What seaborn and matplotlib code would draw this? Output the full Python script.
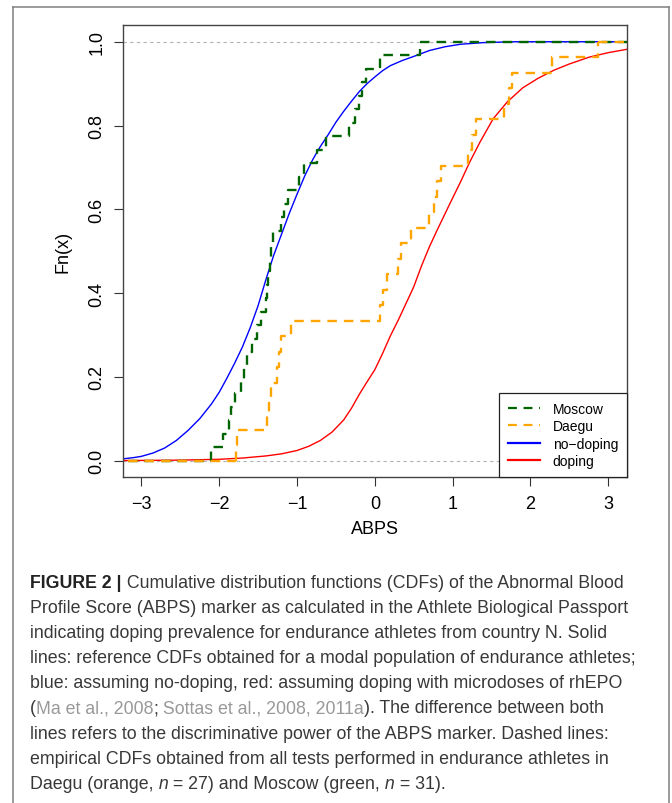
import numpy as np
import pandas as pd
import matplotlib
matplotlib.use("Agg")
import matplotlib.pyplot as plt
import seaborn as sns
from matplotlib import font_manager
from matplotlib.lines import Line2D

# empirical ABPS values
moscow = [-2.10, -1.95, -1.88, -1.85, -1.80, -1.72, -1.68, -1.64, -1.58, -1.52,
          -1.46, -1.40, -1.385, -1.37, -1.35, -1.33, -1.31, -1.21, -1.17, -1.12,
          -0.98, -0.91, -0.74, -0.63, -0.33, -0.26, -0.21, -0.17, -0.12, 0.06, 0.58]
daegu = [-1.79, -1.77, -1.39, -1.36, -1.33, -1.26, -1.23, -1.20, -1.08, 0.07,
         0.11, 0.16, 0.30, 0.33, 0.47, 0.70, 0.76, 0.80, 0.85, 1.20,
         1.25, 1.30, 1.66, 1.72, 1.76, 2.28, 2.87]

# reference CDFs, points
nodoping_x = [-3.24, -3.1, -3.0, -2.85, -2.7, -2.55, -2.4, -2.25, -2.1, -2.0,
              -1.9, -1.8, -1.7, -1.6, -1.5, -1.4, -1.3, -1.2, -1.1, -1.0,
              -0.9, -0.8, -0.7, -0.6, -0.5, -0.4, -0.3, -0.2, -0.1, 0.0,
              0.1, 0.2, 0.35, 0.5, 0.7, 0.9, 1.1, 1.4, 1.8, 3.24]
nodoping_f = [0.004, 0.007, 0.010, 0.018, 0.030, 0.048, 0.072, 0.100, 0.135, 0.163,
              0.197, 0.233, 0.272, 0.318, 0.370, 0.432, 0.490, 0.540, 0.590, 0.636,
              0.680, 0.718, 0.750, 0.778, 0.808, 0.834, 0.858, 0.881, 0.900, 0.916,
              0.931, 0.943, 0.955, 0.965, 0.979, 0.988, 0.994, 0.998, 1.0, 1.0]
doping_x = [-3.24, -2.5, -2.0, -1.7, -1.4, -1.2, -1.0, -0.85, -0.7, -0.55,
            -0.4, -0.3, -0.2, -0.1, 0.0, 0.1, 0.2, 0.3, 0.4, 0.5,
            0.6, 0.7, 0.8, 0.95, 1.1, 1.22, 1.35, 1.52, 1.7, 1.9,
            2.1, 2.3, 2.5, 2.75, 3.0, 3.24]
doping_f = [0.0, 0.001, 0.003, 0.006, 0.011, 0.016, 0.024, 0.034, 0.048, 0.068,
            0.097, 0.125, 0.158, 0.188, 0.217, 0.256, 0.298, 0.335, 0.375, 0.415,
            0.465, 0.510, 0.550, 0.608, 0.665, 0.713, 0.760, 0.816, 0.856, 0.890,
            0.913, 0.932, 0.947, 0.963, 0.974, 0.982]

labels = ["Moscow", "Daegu", "no\u2212doping", "doping"]
colors = ["#006400", "#FFA500", "#0000FF", "#FF0000"]
x_ticks = [-3, -2, -1, 0, 1, 2, 3]
y_ticks = [0.0, 0.2, 0.4, 0.6, 0.8, 1.0]

caption = [
    [("FIGURE 2 |", "b"), (" Cumulative distribution functions (CDFs) of the Abnormal Blood", "n")],
    [("Profile Score (ABPS) marker as calculated in the Athlete Biological Passport", "n")],
    [("indicating doping prevalence for endurance athletes from country N. Solid", "n")],
    [("lines: reference CDFs obtained for a modal population of endurance athletes;", "n")],
    [("blue: assuming no-doping, red: assuming doping with microdoses of rhEPO", "n")],
    [("(", "n"), ("Ma et al., 2008", "g"), (";", "n"), (" Sottas et al., 2008, 2011a", "g"),
     ("). The difference between both", "n")],
    [("lines refers to the discriminative power of the ABPS marker. Dashed lines:", "n")],
    [("empirical CDFs obtained from all tests performed in endurance athletes in", "n")],
    [("Daegu (orange,", "n"), (" n", "i"), (" = 27) and Moscow (green,", "n"), (" n", "i"), (" = 31).", "n")],
]

installed = {f.name for f in font_manager.fontManager.ttflist}
cap_family = "Liberation Sans Narrow" if "Liberation Sans Narrow" in installed else "Liberation Sans"
plt.rcParams["font.family"] = ["Liberation Sans", "DejaVu Sans"]

W, H = 672, 804
fig = plt.figure(figsize=(W / 100, H / 100), dpi=100)
ax = fig.add_axes([122.7 / W, 1 - 478.3 / H, (627 - 122.7) / W, (478.3 - 26) / H])

dash = (0, (4, 3))
ax.axhline(0, color="#b3b3b3", lw=0.8, ls=(0, (3, 3)), zorder=1)
ax.axhline(1, color="#b3b3b3", lw=0.8, ls=(0, (3, 3)), zorder=1)

sns.lineplot(x=nodoping_x, y=nodoping_f, ax=ax, color=colors[2], lw=1.0,
             estimator=None, sort=False, zorder=2)
sns.lineplot(x=doping_x, y=doping_f, ax=ax, color=colors[3], lw=1.0,
             estimator=None, sort=False, zorder=2)

for vals, col in [(moscow, colors[0]), (daegu, colors[1])]:
    sns.ecdfplot(x=vals, ax=ax, color=col, lw=1.7, ls=dash, zorder=3)
    # R's plot.ecdf carries the flat parts out to the plot edges
    ax.plot([-3.6, min(vals)], [0, 0], color=col, lw=1.7, ls=dash, zorder=3)
    ax.plot([max(vals), 3.6], [1, 1], color=col, lw=1.7, ls=dash, zorder=3)

ax.set_xlim(-3.24, 3.24)
ax.set_ylim(-0.04, 1.04)
ax.set_xticks(x_ticks)
ax.set_yticks(y_ticks)
ax.set_xticklabels([f"{v:d}".replace("-", "\u2212") for v in x_ticks])
ax.set_yticklabels([f"{v:.1f}" for v in y_ticks], rotation=90, va="center")
ax.tick_params(direction="out", length=6.5, width=0.8, color="#333333",
               labelsize=13, labelcolor="black")
ax.tick_params(axis="x", pad=6)
ax.tick_params(axis="y", pad=6)
ax.set_xlabel("ABPS", fontsize=13, labelpad=6)
ax.set_ylabel("Fn(x)", fontsize=13, labelpad=12)
for sp in ax.spines.values():
    sp.set_color("#444444")
    sp.set_linewidth(1.0)

handles = [Line2D([], [], color=colors[0], lw=1.6, ls=dash),
           Line2D([], [], color=colors[1], lw=1.6, ls=dash),
           Line2D([], [], color=colors[2], lw=1.6),
           Line2D([], [], color=colors[3], lw=1.6)]
leg = ax.legend(handles, labels, loc="lower right", borderaxespad=0, fontsize=10,
                fancybox=False, framealpha=1, edgecolor="#222222",
                handlelength=2.3, handletextpad=0.9, labelspacing=0.25,
                borderpad=0.65)
leg.get_frame().set_linewidth(0.9)

# outer frame of the figure panel
frame_kw = dict(color="#808080", lw=1.1, transform=fig.transFigure)
fig.add_artist(Line2D([13 / W, 13 / W], [0, 1 - 8 / H], **frame_kw))
fig.add_artist(Line2D([669 / W, 669 / W], [0, 1 - 8 / H], **frame_kw))
fig.add_artist(Line2D([13 / W, 669 / W], [1 - 8 / H, 1 - 8 / H], **frame_kw))

# caption, fitted so the second line spans the same width as in the figure
renderer = fig.canvas.get_renderer()
probe = fig.text(0, 0, caption[1][0][0], fontsize=12, family=cap_family)
cap_size = 12 * 602 / probe.get_window_extent(renderer).width
probe.remove()

cap_dark, cap_gray = "#383838", "#999999"


def seg_style(kind):
    st = dict(fontsize=cap_size, family=cap_family, color=cap_dark)
    if kind == "b":
        st["weight"] = "bold"
        st["color"] = "#222222"
    elif kind == "g":
        st["color"] = cap_gray
    elif kind == "i":
        st["style"] = "italic"
    return st


for i, parts in enumerate(caption):
    base = 1 - (588 + 25.1 * i) / H
    t = fig.text(30 / W, base, parts[0][0], va="baseline", ha="left", **seg_style(parts[0][1]))
    for s, kind in parts[1:]:
        t = ax.annotate(s, xy=(1, 0), xycoords=t, va="bottom", ha="left",
                        annotation_clip=False, **seg_style(kind))

fig.savefig("out.png", dpi=100)
